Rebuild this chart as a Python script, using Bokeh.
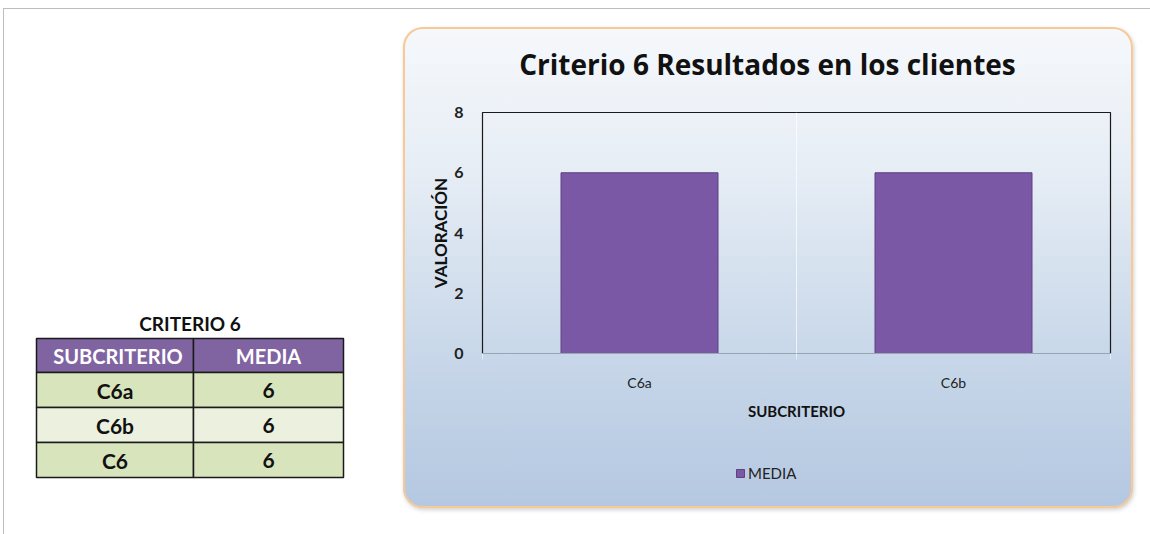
from bokeh.plotting import figure
from bokeh.models import Range1d, FixedTicker, Legend, LegendItem, Spacer
from bokeh.layouts import row, column
from bokeh.embed import file_html
from bokeh.resources import INLINE
from bokeh.core.properties import value

# ---------------- data ----------------
table_title = "CRITERIO 6"
table_header = ["SUBCRITERIO", "MEDIA"]
table_subcriteria = ["C6a", "C6b", "C6"]
table_media = [6, 6, 6]

chart_title = "Criterio 6 Resultados en los clientes"
categories = ["C6a", "C6b"]
media = [6, 6]
y_ticks = [0, 2, 4, 6, 8]
series_name = "MEDIA"
x_label = "SUBCRITERIO"
y_label = "VALORACIÓN"

FONT = "Lato"
BAR_FILL = "#7a58a6"
BAR_LINE = "#5c4184"


def blank(fig):
    fig.outline_line_color = None
    fig.background_fill_alpha = 0
    fig.border_fill_alpha = 0
    fig.grid.visible = False
    return fig


# ---------------- left: table ----------------
left = blank(figure(width=399, height=525, x_range=Range1d(4, 403), y_range=Range1d(534, 9),
                    output_backend="svg", toolbar_location=None,
                    x_axis_location=None, y_axis_location=None, min_border=0,
                    frame_align=False))

tx0, tsplit, tx1 = 36, 193, 343
header_top, header_h, row_h = 338, 34, 35
n_rows = len(table_subcriteria)
row_tops = [header_top + header_h + i * row_h for i in range(n_rows)]
row_colors = ["#d8e4bc" if i % 2 == 0 else "#ebf1de" for i in range(n_rows)]

left.quad(left=[tx0, tsplit], right=[tsplit, tx1], top=[header_top] * 2,
          bottom=[header_top + header_h] * 2, fill_color="#8064a2",
          line_color="#1a1a1a", line_width=1.5)
left.quad(left=[tx0] * n_rows + [tsplit] * n_rows,
          right=[tsplit] * n_rows + [tx1] * n_rows,
          top=row_tops * 2, bottom=[t + row_h for t in row_tops] * 2,
          fill_color=row_colors * 2, line_color="#1a1a1a", line_width=1.5)

c1 = (tx0 + tsplit) / 2
c2 = (tsplit + tx1) / 2
left.text(x=[(tx0 + tx1) / 2], y=[header_top - 15], text=[table_title],
          text_align="center", text_baseline="middle", text_font=value(FONT),
          text_font_style="bold", text_font_size="19px", text_color="#111111")
left.text(x=[c1 + 3, c2], y=[header_top + header_h / 2] * 2, text=table_header,
          text_align="center", text_baseline="middle", text_font=value(FONT),
          text_font_style="bold", text_font_size="20px", text_color="#ffffff")
left.text(x=[c1] * n_rows + [c2] * n_rows,
          y=[t + row_h / 2 for t in row_tops] * 2,
          text=table_subcriteria + [str(v) for v in table_media],
          text_align="center", text_baseline="middle", text_font=value(FONT),
          text_font_style="bold", text_font_size="21px", text_color="#111111")

# ---------------- right: title strip ----------------
title_fig = blank(figure(width=730, height=70, x_range=Range1d(0, 730), y_range=Range1d(70, 0),
                         output_backend="svg", toolbar_location=None,
                         x_axis_location=None, y_axis_location=None, min_border=0,
                         frame_align=False))
title_fig.text(x=[364], y=[36], text=[chart_title], text_align="center",
               text_baseline="middle", text_font=value("Open Sans"),
               text_font_style="bold", text_font_size="28px", text_color="#111111")

# ---------------- right: chart ----------------
n = len(categories)
xs = [i + 0.5 for i in range(n)]

chart = figure(width=730, height=341, x_range=Range1d(0, n), y_range=Range1d(0, y_ticks[-1]),
               output_backend="svg", toolbar_location=None,
               min_border_left=79, min_border_right=23, min_border_top=15,
               min_border_bottom=85, frame_align=False)
chart.background_fill_alpha = 0
chart.border_fill_alpha = 0
chart.outline_line_color = "#1a1a1a"
chart.outline_line_width = 1.2
chart.title.visible = False

bars = chart.vbar(x=xs, top=media, width=0.5, bottom=0,
                  fill_color=BAR_FILL, line_color=BAR_LINE, line_width=1)

chart.xaxis.ticker = FixedTicker(ticks=xs, minor_ticks=list(range(n + 1)))
chart.xaxis.major_label_overrides = {x: c for x, c in zip(xs, categories)}
chart.xaxis.major_tick_line_color = None
chart.xaxis.minor_tick_line_color = "#e6edf5"
chart.xaxis.minor_tick_in = 0
chart.xaxis.minor_tick_out = 6
chart.xaxis.axis_line_color = "#9aa5b3"
chart.xaxis.major_label_standoff = 14
chart.xaxis.major_label_text_font = FONT
chart.xaxis.major_label_text_font_size = "14px"
chart.xaxis.major_label_text_color = "#222222"
chart.xaxis.axis_label = x_label
chart.xaxis.axis_label_text_font = FONT
chart.xaxis.axis_label_text_font_size = "15px"
chart.xaxis.axis_label_text_font_style = "bold"
chart.xaxis.axis_label_text_color = "#111111"
chart.xaxis.axis_label_standoff = 8

chart.yaxis.ticker = FixedTicker(ticks=y_ticks)
chart.yaxis.major_tick_line_color = None
chart.yaxis.minor_tick_line_color = None
chart.yaxis.axis_line_color = None
chart.yaxis.major_label_standoff = 13
chart.yaxis.major_label_text_font = FONT
chart.yaxis.major_label_text_font_size = "16px"
chart.yaxis.major_label_text_font_style = "bold"
chart.yaxis.major_label_text_color = "#222222"
chart.yaxis.axis_label = y_label
chart.yaxis.axis_label_text_font = FONT
chart.yaxis.axis_label_text_font_size = "17px"
chart.yaxis.axis_label_text_font_style = "bold"
chart.yaxis.axis_label_text_color = "#111111"
chart.yaxis.axis_label_standoff = 0

chart.ygrid.visible = False
chart.xgrid.ticker = FixedTicker(ticks=list(range(1, n)))
chart.xgrid.grid_line_color = "#ffffff"
chart.xgrid.grid_line_alpha = 0.7

# ---------------- legend strip ----------------
leg_fig = blank(figure(width=730, height=70, x_range=Range1d(0, 1), y_range=Range1d(0, 1),
                       output_backend="svg", toolbar_location=None,
                       x_axis_location=None, y_axis_location=None, min_border=0,
                       frame_align=False))
# legend proxy: same style as the bars, kept outside the visible range
proxy = leg_fig.vbar(x=[5], top=[1], width=0.5, fill_color=BAR_FILL, line_color=BAR_LINE)
legend = Legend(items=[LegendItem(label=series_name, renderers=[proxy])],
                location=(332, 26), orientation="horizontal",
                background_fill_alpha=0, border_line_color=None,
                padding=0, margin=0, glyph_width=10, glyph_height=10,
                label_standoff=3, label_text_font=FONT, label_text_font_size="15px",
                label_text_color="#222222")
leg_fig.add_layout(legend, "center")

chart_box = column(title_fig, chart, leg_fig, margin=(18, 0, 0, 0))
chart_box.styles = {
    "background": "linear-gradient(180deg, #f6f8fb 0%, #e6edf5 30%, #c8d7e9 68%, #b4c8e1 100%)",
    "border-radius": "20px",
    "box-shadow": "inset 0 0 0 2px #f8c896, 1px 2px 4px rgba(0,0,0,0.18)",
}

root = row(left, chart_box, Spacer(width=17, height=10), margin=(8, 0, 0, 3))
root.styles = {"border-top": "1px solid #bdbdbd", "border-left": "1px solid #bdbdbd"}

open("out.html", "w").write(file_html(root, INLINE))
